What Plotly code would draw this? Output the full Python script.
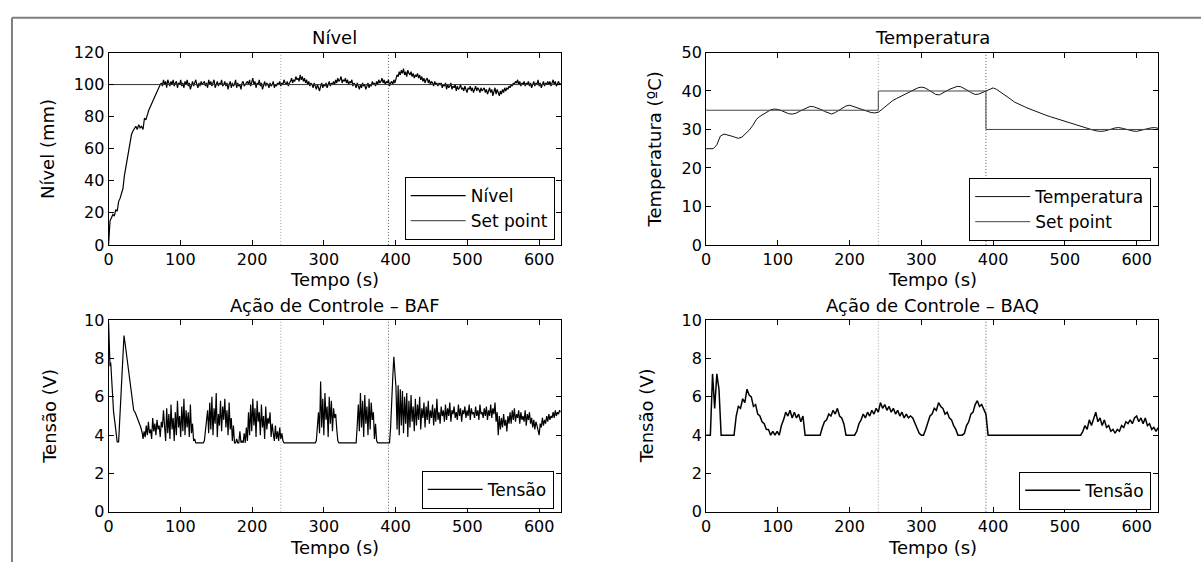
import numpy as np
import plotly.graph_objects as go

# ---------------- data ----------------
# Level (mm): initial rise (irregular sampling) + steady, noisy part sampled every 1.5 s
nivel_rise_t = [0, 1, 2, 4, 6, 8, 10, 12, 14, 16, 18, 20, 22, 24, 26, 28, 30, 32, 34, 36, 38,
                40, 42, 44, 46, 48, 50, 52, 54, 56, 58, 60, 62, 64, 66, 68, 70, 72]
nivel_rise = [0, 9, 15, 17, 19, 18, 22, 21, 27, 29, 33, 35, 43, 48, 55, 60, 65, 69, 71, 73, 74,
              72, 75, 73, 74, 72, 79, 78, 82, 84, 86, 88, 91, 93, 95, 97, 99, 100]
NIVEL_T0, NIVEL_DT = 73.5, 1.5
nivel_noisy = [
    101, 99, 103, 100, 102, 98, 103, 101, 99, 102, 100, 103, 99, 101, 102, 98, 101, 100, 103, 99,
    101, 98, 102, 100, 103, 99, 101, 97, 100, 102, 99, 101, 103, 100, 98, 101, 99, 102, 100, 101,
    102, 99, 101, 98, 103, 100, 102, 99, 101, 103, 98, 100, 102, 99, 101, 100, 103, 99, 100, 102,
    99, 101, 97, 100, 102, 98, 101, 99, 100, 103, 98, 101, 99, 100, 97, 101, 102, 99, 100, 101,
    102, 100, 103, 99, 101, 104, 100, 102, 98, 101, 100, 103, 99, 101, 97, 100, 102, 99, 101, 100,
    98, 101, 99, 100, 102, 98, 100, 99, 101, 100, 102, 99, 101, 100, 103, 101, 100, 102, 99, 101,
    102, 104, 101, 103, 102, 105, 103, 104, 102, 106, 103, 105, 102, 104, 101, 103, 100, 102, 99, 101,
    100, 98, 101, 99, 97, 100, 98, 96, 99, 101, 98, 100, 99, 101, 98, 100, 102, 99, 101, 100,
    102, 100, 103, 101, 104, 102, 103, 105, 101, 103, 102, 104, 101, 103, 100, 102, 101, 103, 99, 101,
    100, 98, 101, 99, 97, 100, 98, 101, 99, 100, 97, 99, 101, 98, 100, 99, 102, 100, 101, 99,
    102, 100, 103, 101, 102, 104, 101, 103, 100, 102, 101, 103, 99, 101, 102, 100, 103, 101, 104, 106,
    105, 108, 106, 109, 107, 110, 106, 108, 105, 109, 107, 106, 108, 105, 107, 104, 106, 105, 107, 104,
    106, 103, 105, 102, 104, 101, 103, 104, 101, 103, 100, 102, 101, 99, 102, 100, 101, 99, 101, 100,
    101, 98, 100, 99, 101, 97, 100, 98, 99, 101, 97, 99, 98, 100, 96, 99, 97, 98, 100, 97,
    98, 96, 99, 97, 95, 98, 97, 99, 96, 98, 95, 97, 99, 96, 98, 97, 95, 98, 96, 97,
    98, 95, 97, 94, 96, 98, 95, 97, 93, 96, 98, 94, 97, 95, 93, 96, 94, 97, 95, 98,
    96, 98, 97, 99, 98, 100, 99, 101, 100, 102, 101, 103, 100, 102, 99, 101, 100, 102, 99, 101,
    100, 102, 99, 101, 98, 100, 102, 99, 101, 100, 103, 99, 101, 98, 100, 102, 99, 101, 100, 102,
    100, 102, 99, 101, 103, 100, 102, 99, 101, 102, 100, 101]
nivel_sp_t = [0, 630]
nivel_sp = [100, 100]

# Temperature (ºC) sampled every 5 s
TEMP_DT = 5
temperatura = [25, 25, 25, 26, 28.3, 28.8, 28.6, 28.3, 28, 27.7, 28, 28.8, 29.8, 31, 32.6,
               33.4, 34, 34.6, 35.1, 35.3, 35.2, 34.9, 34.4, 34.1, 34, 34.2, 34.7, 35.2,
               35.7, 36, 35.9, 35.6, 35.2, 34.7, 34.3, 34, 34.4, 35, 35.6, 36.1, 36.3, 36,
               35.6, 35.2, 34.9, 34.6, 34.4, 34.3, 34.5, 35.2, 36, 36.9, 37.5, 38, 38.5, 39,
               39.5, 40, 40.4, 40.8, 41, 40.8, 40.3, 39.6, 39.1, 39, 39.4, 40, 40.5, 40.9,
               41.2, 41.1, 40.7, 40.1, 39.5, 39.1, 39.2, 39.6, 40, 40.6, 40.8, 40.4, 39.8,
               39.1, 38.4, 37.8, 37.1, 36.6, 36.2, 35.8, 35.4, 35, 34.6, 34.3, 34, 33.6,
               33.3, 33, 32.6, 32.3, 32, 31.7, 31.4, 31.1, 30.8, 30.5, 30.3, 30.1, 29.8,
               29.6, 29.5, 29.6, 29.8, 30.1, 30.4, 30.5, 30.3, 30, 29.8, 29.6, 29.5, 29.8,
               30, 30.2, 30.4, 30.5, 30.3]
temp_sp_t = [0, 240, 240, 390, 390, 630]
temp_sp = [35, 35, 40, 40, 30, 30]

# Control action BAF (V): start transient + noisy part every 1.5 s
baf_start_t = [0, 1, 2, 3, 5, 7, 9, 10.5, 12, 14, 16, 18, 20, 21.5, 23, 25, 27, 29, 31, 33,
               35, 37, 39, 41, 43, 45, 47, 48]
baf_start = [9.9, 8.0, 7.6, 7.8, 6.2, 5.2, 4.6, 4.0, 3.65, 3.65, 5.2, 7.2, 8.6, 9.2, 8.8, 8.2,
             7.7, 7.0, 6.2, 5.7, 5.3, 5.2, 5.0, 4.9, 4.7, 4.4, 4.1, 3.8]
BAF_T0, BAF_DT = 49.5, 1.5
baf_noisy = [
    4.2, 3.9, 4.5, 4.0, 4.7, 4.1, 4.3, 3.8, 4.9, 4.2, 4.6, 4.0, 4.8, 4.3, 4.5, 3.9, 4.7, 4.4, 5.3, 4.6,
    3.7, 5.4, 4.1, 5.1, 3.8, 5.6, 4.3, 4.9, 3.7, 5.2, 4.0, 5.8, 4.4, 5.0, 3.9, 5.5, 4.2, 5.9, 4.0, 5.3,
    4.4, 5.2, 3.9, 5.6, 4.1, 4.6, 3.7, 3.8, 3.6, 3.6, 3.6, 3.6, 3.6, 3.6, 3.6, 3.6, 3.7, 4.2, 4.8, 5.3,
    4.1, 5.7, 4.3, 6.0, 4.0, 5.4, 4.6, 6.2, 3.9, 5.1, 4.5, 5.8, 4.2, 5.5, 4.8, 5.9, 4.4, 5.3, 4.0, 5.7,
    4.3, 4.9, 3.7, 4.5, 3.6, 3.6, 3.8, 3.6, 3.6, 4.2, 3.6, 3.7, 3.6, 4.1, 3.6, 4.4, 3.7, 5.2, 4.0, 5.6,
    4.2, 5.9, 4.5, 5.4, 3.9, 5.8, 4.7, 5.2, 4.0, 5.6, 4.4, 5.0, 3.8, 5.5, 4.3, 4.9, 4.6, 5.2, 3.9, 4.6,
    4.1, 3.7, 4.5, 3.8, 4.2, 3.7, 4.4, 3.8, 4.1, 3.7, 3.6, 3.6, 3.6, 3.6, 3.6, 3.6, 3.6, 3.6, 3.6, 3.6,
    3.6, 3.6, 3.6, 3.6, 3.6, 3.6, 3.6, 3.6, 3.6, 3.6, 3.6, 3.6, 3.6, 3.6, 3.6, 3.6, 3.6, 3.6, 3.6, 3.6,
    3.7, 4.5, 5.2, 4.1, 6.8, 4.4, 5.9, 4.0, 6.2, 4.8, 5.5, 3.9, 6.0, 4.6, 5.8, 4.2, 5.4, 4.9, 5.1, 4.3,
    3.7, 3.6, 3.6, 3.6, 3.6, 3.6, 3.6, 3.6, 3.6, 3.6, 3.6, 3.6, 3.6, 3.6, 3.6, 3.6, 3.6, 3.6, 4.5, 5.6,
    4.2, 6.2, 4.4, 5.8, 3.9, 6.1, 4.6, 5.5, 4.0, 5.9, 4.3, 5.7, 4.8, 5.2, 3.8, 4.6, 3.7, 3.6, 3.6, 3.6,
    3.6, 3.6, 3.6, 3.6, 3.6, 3.6, 3.6, 3.6, 3.6, 4.4, 6.2, 7.0, 8.1, 7.2, 6.5, 4.3, 6.6, 4.0, 6.4, 4.5,
    6.3, 4.1, 6.0, 4.6, 6.2, 3.9, 5.8, 4.4, 6.1, 4.7, 5.5, 4.2, 5.9, 4.5, 5.6, 4.8, 6.0, 4.3, 5.4, 4.9,
    5.7, 4.4, 5.5, 4.8, 5.8, 4.6, 5.3, 4.9, 5.6, 4.5, 5.4, 4.7, 5.9, 4.8, 5.2, 4.6, 5.5, 5.0, 5.3, 4.7,
    5.6, 4.8, 5.4, 5.0, 5.7, 4.7, 5.3, 5.1, 5.5, 4.9, 5.2, 4.8, 5.6, 5.0, 5.4, 4.7, 5.3, 5.1, 5.5, 4.9,
    5.3, 5.0, 5.6, 4.8, 5.4, 5.1, 5.2, 4.9, 5.5, 5.0, 5.3, 4.8, 5.6, 5.1, 5.2, 4.9, 5.4, 5.0, 5.5, 4.8,
    5.3, 5.0, 5.6, 4.9, 5.4, 5.1, 5.7, 4.7, 5.2, 4.0, 5.0, 4.3, 4.9, 4.4, 5.1, 4.5, 4.8, 4.2, 5.0, 4.6,
    5.2, 4.6, 5.3, 4.8, 5.4, 4.7, 5.1, 4.9, 5.3, 4.6, 5.2, 4.8, 5.0, 4.7, 5.3, 4.5, 5.1, 4.8, 5.2, 4.6,
    4.9, 4.4, 4.8, 4.3, 4.7, 4.5, 4.2, 4.0, 4.6, 4.4, 4.9, 4.5, 4.8, 4.6, 5.0, 4.7, 5.1, 4.8, 5.0, 4.9,
    5.2, 4.9, 5.3, 5.0, 5.2, 5.1, 5.3, 5.2]

# Control action BAQ (V) sampled every 3 s
BAQ_DT = 3
tensao_baq = ([4.0, 4.0, 4.0, 7.2, 5.4, 7.2, 6.4, 4.0]
              + [4.0] * 6
              + [5.0, 5.5, 5.4, 5.9, 5.7, 6.4, 6.1, 6.0, 5.5, 5.6, 5.1, 5.0, 4.7, 4.6, 4.3, 4.3,
                 4.0, 4.2, 4.0, 4.2, 4.0]
              + [4.5, 4.8, 5.2, 5.0, 5.3, 4.9, 5.2, 4.9, 5.1, 4.7, 5.0]
              + [4.0] * 8
              + [4.4, 4.7, 4.8, 5.1, 5.0, 5.3, 5.1, 5.4, 5.0, 4.9, 4.6]
              + [4.0] * 5
              + [4.2, 4.6, 4.8, 5.1, 4.9, 5.2, 5.0, 5.3, 5.1, 5.4, 5.2, 5.7, 5.4, 5.6, 5.3, 5.5,
                 5.2, 5.4, 5.1, 5.3, 5.0, 5.2, 4.9, 5.1, 4.9, 5.0, 4.9, 4.6]
              + [4.3, 4.1, 4.0, 4.0]
              + [4.3, 4.6, 5.0, 5.1, 5.4, 5.3, 5.7, 5.5, 5.4, 5.1, 5.2, 4.9, 4.8, 4.5, 4.3]
              + [4.0] * 3
              + [4.1, 4.5, 4.7, 5.1, 5.2, 5.6, 5.8, 5.5, 5.6, 5.3, 5.1]
              + [4.0] * 44
              + [4.2, 4.5, 4.3, 4.8, 4.5, 4.9, 5.2, 4.7, 4.9, 4.5, 4.8, 4.4, 4.5, 4.2, 4.3, 4.1,
                 4.3, 4.2, 4.5, 4.4, 4.7, 4.6, 4.8, 4.6, 4.9, 5.0, 4.7, 4.9, 4.6, 4.9, 4.5, 4.6,
                 4.3, 4.4, 4.2, 4.4])

x_ticks = [0, 100, 200, 300, 400, 500, 600]
marcos = [240, 390]   # instants of set-point change

# time vectors
t_nivel = np.concatenate([nivel_rise_t, NIVEL_T0 + np.arange(len(nivel_noisy)) * NIVEL_DT])
v_nivel = np.array(nivel_rise + nivel_noisy, dtype=float)
t_temp = np.arange(len(temperatura)) * TEMP_DT
t_baf = np.concatenate([baf_start_t, BAF_T0 + np.arange(len(baf_noisy)) * BAF_DT])
v_baf = np.array(baf_start + baf_noisy, dtype=float)
t_baq = np.arange(len(tensao_baq)) * BAQ_DT

# ---------------- figure ----------------
W, H = 1201, 572
FONT = "DejaVu Sans, Liberation Sans, Arial"

def px_x(p):
    return p / W

def px_y(p):
    return (H - p) / H

dom_x = [[px_x(104), px_x(558)], [px_x(704), px_x(1158)]]
dom_y_top = [px_y(244), px_y(45)]
dom_y_bot = [px_y(520), px_y(322)]

fig = go.Figure()
fig.add_trace(go.Scatter(x=t_nivel, y=v_nivel, mode="lines", name="Nível",
                         line=dict(color="black", width=1.2), xaxis="x", yaxis="y", legend="legend"))
fig.add_trace(go.Scatter(x=nivel_sp_t, y=nivel_sp, mode="lines", name="Set point",
                         line=dict(color="#333333", width=1), xaxis="x", yaxis="y", legend="legend"))
fig.add_trace(go.Scatter(x=t_temp, y=temperatura, mode="lines", name="Temperatura",
                         line=dict(color="#111111", width=1), xaxis="x2", yaxis="y2", legend="legend2"))
fig.add_trace(go.Scatter(x=temp_sp_t, y=temp_sp, mode="lines", name="Set point",
                         line=dict(color="#444444", width=1), xaxis="x2", yaxis="y2", legend="legend2"))
fig.add_trace(go.Scatter(x=t_baf, y=v_baf, mode="lines", name="Tensão",
                         line=dict(color="black", width=1.2), xaxis="x3", yaxis="y3", legend="legend3"))
fig.add_trace(go.Scatter(x=t_baq, y=tensao_baq, mode="lines", name="Tensão",
                         line=dict(color="black", width=1.5), xaxis="x4", yaxis="y4", legend="legend4"))

axis_common = dict(showline=True, linecolor="black", linewidth=1, mirror="ticks",
                   ticks="inside", ticklen=5, tickcolor="black", showgrid=False,
                   zeroline=False, tickfont=dict(family=FONT, size=16, color="black"))

def xax(dom, anchor):
    return dict(domain=dom, anchor=anchor, range=[0, 630], tickvals=x_ticks, **axis_common)

def yax(dom, anchor, rng, dtick):
    return dict(domain=dom, anchor=anchor, range=rng, dtick=dtick, tick0=0, **axis_common)

fig.update_layout(
    width=W, height=H, margin=dict(l=0, r=0, t=0, b=0),
    paper_bgcolor="white", plot_bgcolor="white",
    font=dict(family=FONT, color="black"),
    xaxis=xax(dom_x[0], "y"), yaxis=yax(dom_y_top, "x", [0, 120], 20),
    xaxis2=xax(dom_x[1], "y2"), yaxis2=yax(dom_y_top, "x2", [0, 50], 10),
    xaxis3=xax(dom_x[0], "y3"), yaxis3=yax(dom_y_bot, "x3", [0, 10], 2),
    xaxis4=xax(dom_x[1], "y4"), yaxis4=yax(dom_y_bot, "x4", [0, 10], 2),
)

leg_common = dict(bgcolor="white", bordercolor="black", borderwidth=1,
                  font=dict(family=FONT, size=17, color="black"),
                  xanchor="right", yanchor="bottom", itemwidth=55,
                  tracegroupgap=0)
fig.update_layout(
    legend=dict(x=px_x(552), y=px_y(239), **leg_common),
    legend2=dict(x=px_x(1151), y=px_y(240), **leg_common),
    legend3=dict(x=px_x(551), y=px_y(517), **leg_common),
    legend4=dict(x=px_x(1151), y=px_y(518), **leg_common),
)

shapes = []
for xr, yr in [("x", "y"), ("x2", "y2"), ("x3", "y3"), ("x4", "y4")]:
    for m, col in zip(marcos, ["#a0a0a0", "#555555"]):
        shapes.append(dict(type="line", xref=xr, yref=yr + " domain", x0=m, x1=m, y0=0, y1=1,
                           line=dict(color=col, width=1, dash="1px,2px"), layer="below"))
# outer frame (top and left edges of the original picture)
shapes.append(dict(type="line", xref="paper", yref="paper", x0=px_x(7), x1=1, y0=px_y(9), y1=px_y(9),
                   line=dict(color="#7f7f7f", width=2)))
shapes.append(dict(type="line", xref="paper", yref="paper", x0=px_x(7), x1=px_x(7), y0=0, y1=px_y(9),
                   line=dict(color="#7f7f7f", width=2)))
fig.update_layout(shapes=shapes)

ann = []
def text(x, y, s, size, angle=0):
    ann.append(dict(x=px_x(x), y=px_y(y), xref="paper", yref="paper", text=s, showarrow=False,
                    xanchor="center", yanchor="middle", textangle=angle,
                    font=dict(family=FONT, size=size, color="black")))

text(331, 29, "Nível", 18)
text(931, 29, "Temperatura", 18)
text(331, 307, "Ação de Controle – BAF", 18)
text(931, 307, "Ação de Controle – BAQ", 18)
text(331, 280, "Tempo (s)", 18)
text(931, 280, "Tempo (s)", 18)
text(331, 557, "Tempo (s)", 18)
text(931, 557, "Tempo (s)", 18)
text(42, 145, "Nível (mm)", 18, -90)
text(652, 145, "Temperatura (ºC)", 18, -90)
text(44, 421, "Tensão (V)", 18, -90)
text(644, 421, "Tensão (V)", 18, -90)
fig.update_layout(annotations=ann)

fig.write_html("out.html")
